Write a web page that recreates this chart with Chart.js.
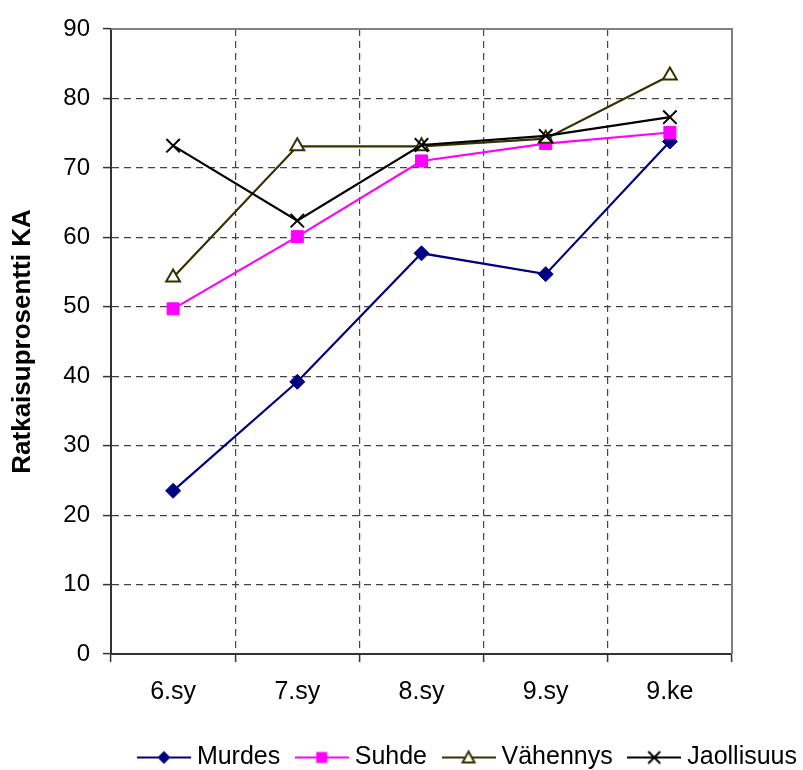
<!DOCTYPE html>
<html>
<head>
<meta charset="utf-8">
<script src="https://cdn.jsdelivr.net/npm/chart.js@4/dist/chart.umd.min.js"></script>
<style>
  html, body { margin: 0; padding: 0; background: #fff; }
</style>
</head>
<body>
<canvas id="chart" width="803" height="770"></canvas>
<script>
// Data
const categories = ['6.sy', '7.sy', '8.sy', '9.sy', '9.ke'];
const murdes = [23.5, 39.2, 57.7, 54.7, 73.8];
const suhde = [49.7, 60.1, 71.0, 73.5, 75.1];
const vahennys = [54.2, 73.1, 73.1, 74.2, 83.3];
const jaollisuus = [73.2, 62.4, 73.3, 74.6, 77.3];
const yTicks = [0, 10, 20, 30, 40, 50, 60, 70, 80, 90];

const FONT = "'Liberation Sans', Arial, sans-serif";

// small line + marker icon for the legend
function drawMarker(g, style, x, y, color, fill) {
  g.beginPath();
  if (style === 'rectRot') {
    g.moveTo(x, y - 6.5); g.lineTo(x + 6.5, y); g.lineTo(x, y + 6.5); g.lineTo(x - 6.5, y); g.closePath();
    g.fillStyle = color; g.fill();
  } else if (style === 'rect') {
    g.rect(x - 5.5, y - 5.5, 11, 11);
    g.fillStyle = color; g.fill();
  } else if (style === 'triangle') {
    g.moveTo(x, y - 6); g.lineTo(x + 6, y + 5); g.lineTo(x - 6, y + 5); g.closePath();
    g.fillStyle = fill; g.fill();
    g.lineWidth = 2; g.strokeStyle = color; g.stroke();
  } else if (style === 'crossRot') {
    g.moveTo(x - 6, y - 6); g.lineTo(x + 6, y + 6);
    g.moveTo(x + 6, y - 6); g.lineTo(x - 6, y + 6);
    g.lineWidth = 2; g.strokeStyle = color; g.stroke();
  }
}

function legendIcon(ds) {
  const c = document.createElement('canvas');
  c.width = 54; c.height = 24;
  const g = c.getContext('2d');
  g.strokeStyle = ds.borderColor;
  g.lineWidth = 2;
  g.beginPath(); g.moveTo(0, 12); g.lineTo(54, 12); g.stroke();
  drawMarker(g, ds.pointStyle, 27, 12, ds.borderColor, ds.pointBackgroundColor);
  return c;
}

// gray frame on top and right of the plot area
const framePlugin = {
  id: 'frame',
  beforeDatasetsDraw(chart) {
    const {ctx, chartArea: a} = chart;
    ctx.save();
    ctx.strokeStyle = '#808080';
    ctx.lineWidth = 2;
    ctx.beginPath();
    ctx.moveTo(a.left, a.top);
    ctx.lineTo(a.right, a.top);
    ctx.lineTo(a.right, a.bottom);
    ctx.stroke();
    ctx.restore();
  }
};

const ctx = document.getElementById('chart').getContext('2d');
const chart = new Chart(ctx, {
  type: 'line',
  data: {
    labels: categories,
    datasets: [
      { label: 'Murdes', data: murdes, borderColor: '#000080', backgroundColor: '#000080',
        pointStyle: 'rectRot', pointRadius: 7.5, pointBackgroundColor: '#000080', pointBorderWidth: 1, order: 4 },
      { label: 'Suhde', data: suhde, borderColor: '#FF00FF', backgroundColor: '#FF00FF',
        pointStyle: 'rect', pointRadius: 8.5, pointBackgroundColor: '#FF00FF', pointBorderWidth: 1, order: 3 },
      { label: 'Vähennys', data: vahennys, borderColor: '#333300', backgroundColor: '#ffffff',
        pointStyle: 'triangle', pointRadius: 8, pointBackgroundColor: '#ffffff', pointBorderWidth: 2, order: 2 },
      { label: 'Jaollisuus', data: jaollisuus, borderColor: '#000000', backgroundColor: '#000000',
        pointStyle: 'crossRot', pointRadius: 9.5, pointBorderWidth: 2, order: 1 }
    ]
  },
  options: {
    responsive: false,
    animation: false,
    layout: { padding: { top: 29, right: -15, bottom: -10, left: 0 } },
    elements: { line: { borderWidth: 2.2, tension: 0, fill: false } },
    plugins: {
      tooltip: { enabled: false },
      legend: {
        position: 'bottom',
        align: 'end',
        labels: {
          usePointStyle: true,
          pointStyleWidth: 41,
          padding: 21,
          color: '#000',
          font: { family: FONT, size: 25 },
          generateLabels: (chart) => chart.data.datasets.map((ds, i) => ({
            text: ds.label,
            pointStyle: legendIcon(ds),
            datasetIndex: i,
            hidden: false,
            lineWidth: 0,
            strokeStyle: ds.borderColor,
            fillStyle: ds.backgroundColor,
            fontColor: '#000'
          }))
        }
      }
    },
    scales: {
      x: {
        offset: true,
        grid: { offset: true, color: '#444', lineWidth: 1.2, tickLength: 8, tickColor: '#333', tickWidth: 1.5, tickBorderDash: [] },
        border: { color: '#333', width: 2, dash: [7, 5] },
        ticks: { color: '#000', padding: 15, font: { family: FONT, size: 25 }, maxRotation: 0 },
        afterFit: (s) => { s.height = 70; }
      },
      y: {
        min: 0, max: 90,
        afterBuildTicks: (s) => { s.ticks = yTicks.map(v => ({ value: v })); },
        grid: { color: '#444', lineWidth: 1.2, tickLength: 8, tickColor: '#333', tickWidth: 1.5, tickBorderDash: [] },
        border: { color: '#333', width: 2, dash: [7, 5] },
        ticks: { color: '#000', padding: 13, font: { family: FONT, size: 24 } },
        title: { display: true, text: 'Ratkaisuprosentti KA', color: '#000',
                 font: { family: FONT, size: 26, weight: 'bold' }, padding: { top: 7, bottom: 0 } },
        afterFit: (s) => { s.width = 111; }
      },
      yRight: {
        position: 'right',
        display: true,
        grid: { display: false, drawTicks: false },
        border: { display: false },
        ticks: { display: false },
        afterFit: (s) => { s.width = 86; }
      }
    }
  },
  plugins: [framePlugin]
});
</script>
</body>
</html>
